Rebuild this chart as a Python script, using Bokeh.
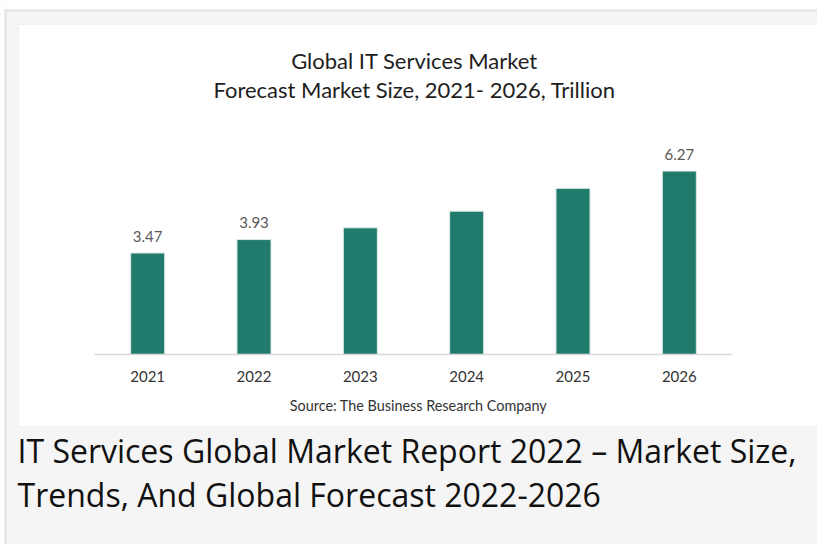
from bokeh.plotting import figure
from bokeh.models import Label, BoxAnnotation, Range1d, ColumnDataSource, FixedTicker
from bokeh.core.properties import value
from bokeh.embed import file_html
from bokeh.resources import INLINE

# ---- data ----
years = ["2021", "2022", "2023", "2024", "2025", "2026"]
values = [3.47, 3.93, 4.33, 4.90, 5.68, 6.27]
labeled_years = ["2021", "2022", "2026"]
title_lines = ["Global IT Services Market", "Forecast Market Size, 2021- 2026, Trillion"]
source_text = "Source: The Business Research Company"
caption_lines = ["IT Services Global Market Report 2022 \u2013 Market Size,",
                 "Trends, And Global Forecast 2022-2026"]

BAR = "#217b6c"
FONT = "Lato"
W, H = 817, 544

pos = list(range(len(years)))
# frame fills the whole canvas; ranges chosen so the plot area sits inside the white box
p = figure(width=W, height=H, x_range=Range1d(-1.3841, 6.2995), y_range=Range1d(-6.496, 12.103),
           output_backend="svg", toolbar_location=None, y_axis_location=None,
           min_border=0, min_border_left=0, min_border_right=0, min_border_top=0,
           min_border_bottom=0)
p.border_fill_color = "#f5f5f5"
p.background_fill_color = "#f5f5f5"
p.outline_line_color = None
p.xgrid.visible = False
p.ygrid.visible = False


def sy(y_top):
    return H - y_top


def box(l, r, t, b, **kw):
    p.add_layout(BoxAnnotation(left=l, right=r, top=sy(t), bottom=sy(b), left_units="screen",
                               right_units="screen", top_units="screen", bottom_units="screen",
                               level="underlay", **kw))


box(0, W, 0, 9, fill_color="white", fill_alpha=1, line_alpha=0)
box(0, 4, 0, H, fill_color="white", fill_alpha=1, line_alpha=0)
box(4, W, 9, 11, fill_color="#e2e2e2", fill_alpha=1, line_alpha=0)
box(4, 6, 9, H, fill_color="#e2e2e2", fill_alpha=1, line_alpha=0)
box(18, W + 1, 24, 426, fill_color="white", fill_alpha=1, line_color="#c9c9c9",
    line_width=1, line_dash="2 2")

src = ColumnDataSource(dict(x=pos, top=values))
p.vbar(x="x", top="top", width=0.32, source=src, fill_color=BAR, line_color="#dbe9e5",
       line_width=1)

lab_x = [years.index(y) for y in labeled_years]
lab_vals = [values[i] for i in lab_x]
lab_src = ColumnDataSource(dict(x=lab_x, y=lab_vals, t=["%.2f" % v for v in lab_vals]))
p.text(x="x", y="y", text="t", source=lab_src, text_align="center",
       text_baseline="alphabetic", y_offset=-17, text_color="#595959",
       text_font=value(FONT), text_font_size="15px")

ax = p.xaxis[0]
ax.fixed_location = 0
ax.bounds = (-0.5, len(years) - 0.5)
ax.ticker = FixedTicker(ticks=pos)
ax.major_label_overrides = {i: y for i, y in zip(pos, years)}
ax.axis_line_color = "#d9d9d9"
ax.axis_line_width = 1.5
ax.major_tick_line_color = None
ax.minor_tick_line_color = None
ax.major_tick_in = 0
ax.major_tick_out = 0
ax.major_label_standoff = 17
ax.major_label_text_font = FONT
ax.major_label_text_font_size = "15px"
ax.major_label_text_color = "#333333"


def label(x, y_top, text, **kw):
    p.add_layout(Label(x=x, y=sy(y_top), x_units="screen", y_units="screen", text=text,
                       text_baseline="alphabetic", **kw))


label(414, 60, title_lines[0], text_align="center", text_font=FONT,
      text_font_size="22px", text_color="#1e1e1e")
label(414, 89, title_lines[1], text_align="center", text_font=FONT,
      text_font_size="22px", text_color="#1e1e1e")
label(418, 405, source_text, text_align="center", text_font=FONT,
      text_font_size="14.4px", text_color="#333333")
label(17, 450, caption_lines[0], text_align="left", text_font="Open Sans",
      text_font_size="32px", text_color="#111111")
label(17, 494, caption_lines[1], text_align="left", text_font="Open Sans",
      text_font_size="32px", text_color="#111111")

open("out.html", "w").write(file_html(p, INLINE))
